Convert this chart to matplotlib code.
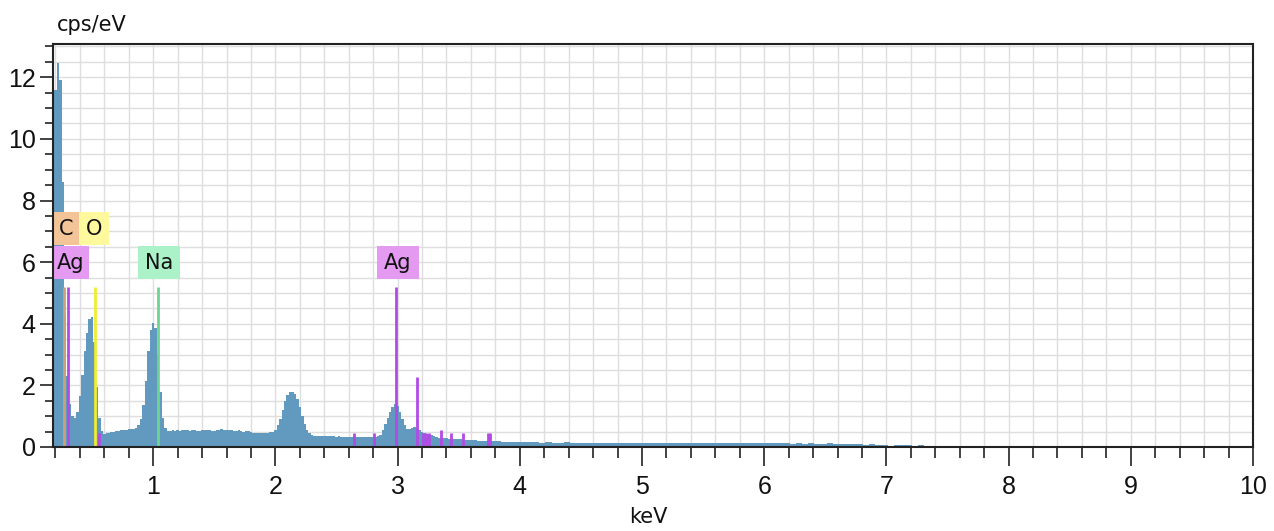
import numpy as np
import matplotlib
matplotlib.use("Agg")
import matplotlib.pyplot as plt
from matplotlib.patches import Rectangle
from matplotlib.ticker import FixedLocator

# ---------------- data ----------------
# main spectrum: bins of 0.02 keV, centres from 0.18 keV to 4.00 keV (cps/eV)
main_start = 0.18
main_step = 0.02
spec_main = [
    8.0, 11.6, 12.45, 11.9, 8.6, 4.3, 2.3, 1.4, 1.02, 0.95,          # 0.18-0.36
    1.15, 1.65, 2.35, 3.1, 3.7, 4.15, 4.22, 3.4, 1.95, 0.95,         # 0.38-0.56
    0.52, 0.42, 0.44, 0.47, 0.49, 0.5, 0.52, 0.53, 0.54, 0.55,       # 0.58-0.76
    0.56, 0.57, 0.58, 0.6, 0.63, 0.7, 0.9, 1.35, 2.15, 3.1,          # 0.78-0.96
    3.8, 4.02, 3.85, 3.0, 1.8, 0.95, 0.62, 0.53,                     # 0.98-1.12
    0.52, 0.54, 0.53, 0.55, 0.52, 0.54, 0.56, 0.55, 0.53, 0.54,      # 1.14-1.32
    0.55, 0.53, 0.52, 0.55, 0.54, 0.56, 0.55, 0.53, 0.52, 0.54,      # 1.34-1.52
    0.56, 0.57, 0.55, 0.54, 0.56, 0.55, 0.53, 0.52, 0.54, 0.53,      # 1.54-1.72
    0.5, 0.51, 0.52, 0.5,                                            # 1.74-1.80
    0.47, 0.46, 0.45, 0.46, 0.45, 0.46, 0.47, 0.48, 0.5,             # 1.82-1.98
    0.55, 0.7, 0.9, 1.2, 1.5, 1.7, 1.78, 1.8, 1.72, 1.55,            # 2.00-2.18
    1.3, 1.0, 0.75, 0.55, 0.45, 0.4,                                 # 2.20-2.30
    0.37, 0.36, 0.37, 0.36, 0.35, 0.36, 0.35, 0.36, 0.35, 0.34,      # 2.32-2.50
    0.35, 0.34, 0.33, 0.34, 0.33, 0.32, 0.33, 0.32, 0.33, 0.32,      # 2.52-2.70
    0.31, 0.32, 0.31, 0.32, 0.32,                                    # 2.72-2.80
    0.33, 0.35, 0.4, 0.55, 0.75, 0.95, 1.15, 1.3, 1.38, 1.32,        # 2.82-3.00
    1.15, 0.9, 0.7, 0.6, 0.6, 0.62, 0.65, 0.62, 0.55, 0.5,           # 3.02-3.20
    0.45, 0.42, 0.4, 0.38, 0.35, 0.32, 0.3, 0.3,                     # 3.22-3.36
    0.28, 0.28, 0.27, 0.27, 0.26, 0.26, 0.25, 0.25, 0.24, 0.24,      # 3.38-3.56
    0.23, 0.23, 0.22, 0.22, 0.21, 0.21, 0.21, 0.2, 0.2, 0.2,         # 3.58-3.76
    0.19, 0.19, 0.18, 0.18, 0.17, 0.17, 0.16, 0.16, 0.16, 0.15,      # 3.78-3.96
    0.15, 0.15,                                                      # 3.98-4.00
]
# high-energy tail: bins of 0.05 keV following the main spectrum
tail_step = 0.05
spec_tail = [
    0.15, 0.15, 0.15, 0.14, 0.15, 0.14, 0.14, 0.15, 0.14, 0.14,
    0.14, 0.14, 0.14, 0.14, 0.14, 0.13, 0.14, 0.14, 0.14, 0.14,
    0.14, 0.13, 0.14, 0.13, 0.14, 0.13, 0.13, 0.14, 0.13, 0.13,
    0.13, 0.13, 0.13, 0.13, 0.13, 0.13, 0.13, 0.13, 0.13, 0.13,
    0.13, 0.13, 0.12, 0.12, 0.11, 0.12, 0.11, 0.12, 0.10, 0.11,
    0.12, 0.10, 0.11, 0.10, 0.10, 0.09, 0.08, 0.09, 0.07, 0.08,
    0.0, 0.07, 0.08, 0.06, 0.0, 0.05, 0.0, 0.04, 0.03,
]

# element marker lines (keV, height)
C_lines = [(0.27, 5.2)]
O_lines = [(0.52, 5.2)]
Na_lines = [(1.04, 5.2)]
Ag_lines = [(0.30, 5.2), (0.56, 0.45), (2.64, 0.45), (2.81, 0.45), (2.985, 5.2),
            (3.155, 2.28), (3.205, 0.45), (3.23, 0.45), (3.255, 0.45), (3.355, 0.55),
            (3.435, 0.45), (3.535, 0.45), (3.74, 0.45), (3.76, 0.45)]

# element label boxes: text, x0, x1, y0, y1
label_text = ["C", "O", "Ag", "Na", "Ag"]
label_x0 = [0.18, 0.393, 0.18, 0.877, 2.831]
label_x1 = [0.393, 0.638, 0.475, 1.22, 3.175]
label_y0 = [6.55, 6.55, 5.45, 5.45, 5.45]
label_y1 = [7.63, 7.63, 6.52, 6.52, 6.52]

x_major = [1, 2, 3, 4, 5, 6, 7, 8, 9, 10]
y_major = [0, 2, 4, 6, 8, 10, 12]

# ---------------- style ----------------
fill_color = "#6199BF"
box_colors = ["#F2C497", "#FFF99E", "#E59AF2", "#ABF2C8", "#E59AF2"]
C_color, O_color, Na_color, Ag_color = "#C9A27A", "#F0EC30", "#6FD394", "#B24AE6"

tick_font = ["Liberation Sans Narrow", "Liberation Sans", "DejaVu Sans"]
text_font = "DejaVu Sans"

W, H = 1274, 531
fig = plt.figure(figsize=(W / 100, H / 100), dpi=100)
ax = fig.add_axes([53 / W, 1 - 447 / H, 1200 / W, 403 / H])
ax.set_xlim(0.18, 10.0)
ax.set_ylim(0, 13.08)

# grid
for gx in np.arange(0.2, 9.9, 0.2):
    ax.axvline(gx, color="#DEDEDE", lw=1.0, zorder=0)
for gy in np.arange(0.5, 13.01, 0.5):
    ax.axhline(gy, color="#DEDEDE", lw=1.0, zorder=0)

# spectrum (step fill)
n = len(spec_main)
edges_main = main_start - main_step / 2 + main_step * np.arange(n + 1)
ax.fill_between(edges_main, np.append(spec_main, spec_main[-1]), step="post",
                color=fill_color, lw=0, zorder=2, antialiased=False)
edges_tail = edges_main[-1] + tail_step * np.arange(len(spec_tail) + 1)
ax.fill_between(edges_tail, np.append(spec_tail, spec_tail[-1]), step="post",
                color=fill_color, lw=0, zorder=2, antialiased=False)

# marker lines
for lines, col in [(C_lines, C_color), (O_lines, O_color), (Na_lines, Na_color), (Ag_lines, Ag_color)]:
    xs = [p[0] for p in lines]
    hs = [p[1] for p in lines]
    ax.vlines(xs, 0, hs, colors=col, lw=2.0, zorder=3)

# label boxes
for t, x0, x1, y0, y1, c in zip(label_text, label_x0, label_x1, label_y0, label_y1, box_colors):
    ax.add_patch(Rectangle((x0, y0), x1 - x0, y1 - y0, facecolor=c, edgecolor="none", zorder=4))
    ax.text((x0 + x1) / 2, (y0 + y1) / 2, t, ha="center", va="center", fontsize=15,
            family=text_font, color="#111111", zorder=5)

# ticks
ax.xaxis.set_major_locator(FixedLocator(x_major))
ax.xaxis.set_minor_locator(FixedLocator([v for v in np.round(np.arange(0.2, 10.0, 0.2), 2) if abs(v - round(v)) > 1e-6]))
ax.yaxis.set_major_locator(FixedLocator(y_major))
ax.yaxis.set_minor_locator(FixedLocator([v for v in np.arange(0.5, 13.01, 0.5) if v % 2 != 0]))
ax.set_xticklabels([str(v) for v in x_major])
ax.set_yticklabels([str(v) for v in y_major])
ax.tick_params(axis="x", which="major", length=14, width=1.2, pad=6, labelsize=18, color="#222222")
ax.tick_params(axis="x", which="minor", length=8, width=1.2, color="#222222")
ax.tick_params(axis="y", which="major", length=9.5, width=1.2, pad=3, labelsize=18, color="#222222")
ax.tick_params(axis="y", which="minor", length=6, width=1.2, color="#222222")
for lab in ax.get_xticklabels() + ax.get_yticklabels():
    lab.set_family(tick_font)
    lab.set_color("#111111")

for sp in ax.spines.values():
    sp.set_linewidth(1.5)
    sp.set_color("#222222")
    sp.set_zorder(6)

fig.text(57 / W, 1 - 25 / H, "cps/eV", ha="left", va="center", fontsize=15, family=text_font, color="#111111")
fig.text(648 / W, 1 - 517 / H, "keV", ha="center", va="center", fontsize=15, family=text_font, color="#111111")

fig.savefig("out.png", dpi=100, facecolor="white")
